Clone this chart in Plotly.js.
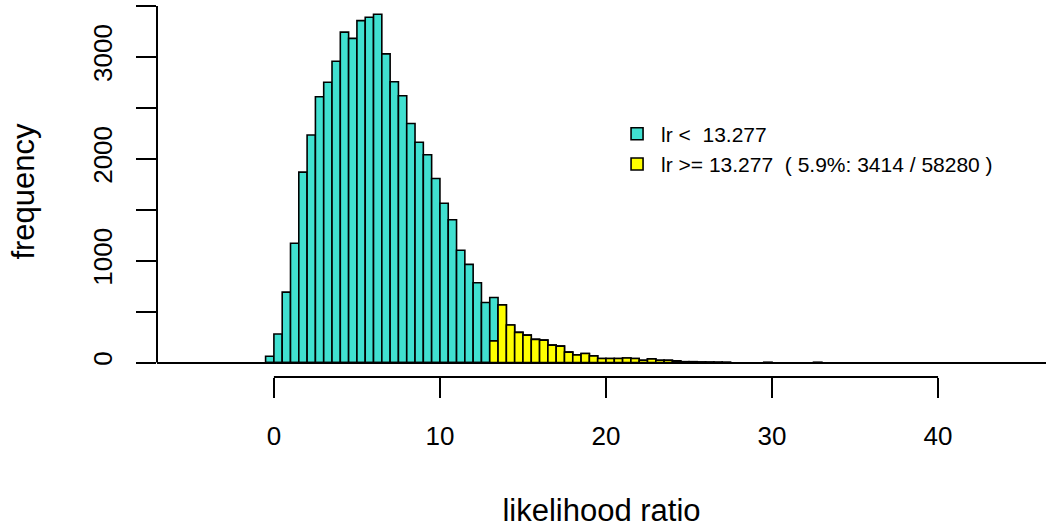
<!DOCTYPE html>
<html>
<head>
<meta charset="utf-8">
<script src="https://cdn.plot.ly/plotly-3.0.1.min.js"></script>
<style>html,body{margin:0;padding:0;background:#fff;overflow:hidden}#chart{width:1046px;height:528px}</style>
</head>
<body>
<div id="chart"></div>
<script>
// Histogram bins (width 0.5), bin midpoints
const binMid = [-0.25, 0.25, 0.75, 1.25, 1.75, 2.25, 2.75, 3.25, 3.75, 4.25,
  4.75, 5.25, 5.75, 6.25, 6.75, 7.25, 7.75, 8.25, 8.75, 9.25,
  9.75, 10.25, 10.75, 11.25, 11.75, 12.25, 12.75, 13.25, 13.75, 14.25,
  14.75, 15.25, 15.75, 16.25, 16.75, 17.25, 17.75, 18.25, 18.75, 19.25,
  19.75, 20.25, 20.75, 21.25, 21.75, 22.25, 22.75, 23.25, 23.75, 24.25,
  24.75, 25.25, 25.75, 26.25, 26.75, 27.25, 29.75, 32.75];
// all observations per bin
const totalCount = [62, 280, 691, 1171, 1869, 2234, 2609, 2751, 2958, 3244,
  3182, 3356, 3389, 3419, 3030, 2757, 2619, 2346, 2162, 2040,
  1806, 1563, 1402, 1102, 964, 783, 589, 638, 566, 368,
  296, 269, 227, 220, 171, 161, 102, 75, 89, 65,
  39, 39, 39, 45, 39, 23, 36, 23, 23, 16,
  8, 8, 5, 4, 3, 2, 1, 1];
// observations with lr >= 13.277 per bin
const highCount = [0, 0, 0, 0, 0, 0, 0, 0, 0, 0,
  0, 0, 0, 0, 0, 0, 0, 0, 0, 0,
  0, 0, 0, 0, 0, 0, 0, 213, 566, 368,
  296, 269, 227, 220, 171, 161, 102, 75, 89, 65,
  39, 39, 39, 45, 39, 23, 36, 23, 23, 16,
  8, 8, 5, 4, 3, 2, 1, 1];
const threshold = '13.277';
const legendLow = 'lr <\u00a0\u00a0' + threshold;
const legendHigh = 'lr >= ' + threshold + '\u00a0\u00a0( 5.9%: 3414 / 58280 )';
const xTicks = [0, 10, 20, 30, 40];
const yTicks = [0, 500, 1000, 1500, 2000, 2500, 3000, 3500];
const yTickText = ['0', '', '1000', '', '2000', '', '3000', ''];

const font = 'Liberation Sans, Arial, Helvetica, sans-serif';

const traces = [
  {type: 'bar', x: binMid, y: totalCount, width: 0.5, name: legendLow,
   marker: {color: '#40E0D0', line: {color: '#000', width: 1.6}}, hoverinfo: 'x+y'},
  {type: 'bar', x: binMid, y: highCount, width: 0.5, name: legendHigh,
   marker: {color: '#FFFF00', line: {color: '#000', width: 1.6}}, hoverinfo: 'x+y'}
];

const layout = {
  width: 1046, height: 528,
  margin: {l: 157, r: 0, t: 6, b: 151, pad: 0},
  paper_bgcolor: '#fff', plot_bgcolor: '#fff',
  barmode: 'overlay', bargap: 0,
  font: {family: font, color: '#000'},
  showlegend: true,
  legend: {x: 0.513, y: 0.71, xanchor: 'left', yanchor: 'top', itemwidth: 38,
    bgcolor: 'rgba(0,0,0,0)', font: {size: 21, family: font}, tracegroupgap: 0},
  xaxis: {
    range: [-7.04, 46.5], showgrid: false, zeroline: false, showline: false,
    tickmode: 'array', tickvals: xTicks, ticks: 'outside', ticklen: 20, tickwidth: 2,
    tickcolor: '#000', tickfont: {size: 26, family: font}, ticklabelstandoff: 16,
    title: {text: 'likelihood ratio', font: {size: 31, family: font}, standoff: 52}
  },
  yaxis: {
    range: [-142, 3500], showgrid: false, showline: false,
    zeroline: true, zerolinecolor: '#000', zerolinewidth: 2,
    tickmode: 'array', tickvals: yTicks, ticktext: yTickText, tickangle: -90,
    ticks: 'outside', ticklen: 20, tickwidth: 2, tickcolor: '#000',
    tickfont: {size: 26, family: font}, ticklabelstandoff: 14,
    title: {text: 'frequency', font: {size: 31, family: font}, standoff: 43}
  },
  shapes: [
    {type: 'line', xref: 'x', yref: 'paper', x0: xTicks[0], x1: xTicks[xTicks.length - 1], y0: 0, y1: 0,
     line: {color: '#000', width: 2}},
    {type: 'line', xref: 'paper', yref: 'y', x0: 0, x1: 0, y0: yTicks[0], y1: yTicks[yTicks.length - 1],
     line: {color: '#000', width: 2}}
  ]
};

Plotly.newPlot('chart', traces, layout, {displayModeBar: false, staticPlot: true});
</script>
</body>
</html>
